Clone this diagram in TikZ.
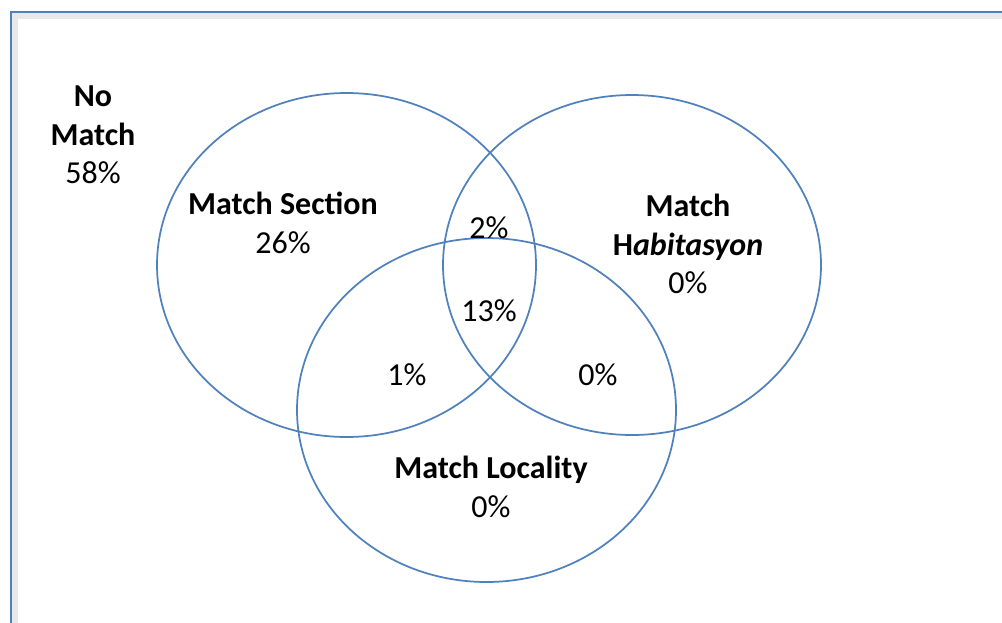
\documentclass[tikz,border=0pt]{standalone}
\usepackage{fontspec}
\setmainfont{Carlito}
\begin{document}
\begin{tikzpicture}[x=0.75pt,y=-0.75pt,
  venn/.style={draw=vblue,line width=1.3pt},
  lbl/.style={align=center,font=\fontsize{24}{29}\selectfont,inner sep=0pt},
  pct/.style={font=\fontsize{24}{29}\selectfont,inner sep=0pt}]
\definecolor{vblue}{RGB}{79,129,189}
\useasboundingbox (0,0) rectangle (1002,622);
\fill[white] (0,0) rectangle (1002,622);
% shadow
\draw[black!9,line width=4pt] (15,660) -- (15,16) -- (1010,16);
\draw[vblue,line width=1.6pt] (11,660) -- (11,12) -- (1010,12);
\draw[venn] (346.5,265) ellipse [x radius=189.5,y radius=172];
\draw[venn] (632,265) ellipse [x radius=189,y radius=170];
\draw[venn] (486.5,410) ellipse [x radius=189.5,y radius=172];
\node[lbl] (nomatch) at (93,135) {\textbf{No}\\\textbf{Match}\\58\%};
\node[lbl] (sec) at (283,223) {\textbf{Match Section}\\26\%};
\node[lbl] (hab) at (688,244) {\textbf{Match}\\\textbf{H\textit{abitasyon}}\\0\%};
\node[lbl] (loc) at (491,487) {\textbf{Match Locality}\\0\%};
\node[pct] (p2) at (489,228) {2\%};
\node[pct] (p13) at (489,311) {13\%};
\node[pct] (p1) at (407,375) {1\%};
\node[pct] (p0) at (598,375) {0\%};
\end{tikzpicture}
\end{document}
